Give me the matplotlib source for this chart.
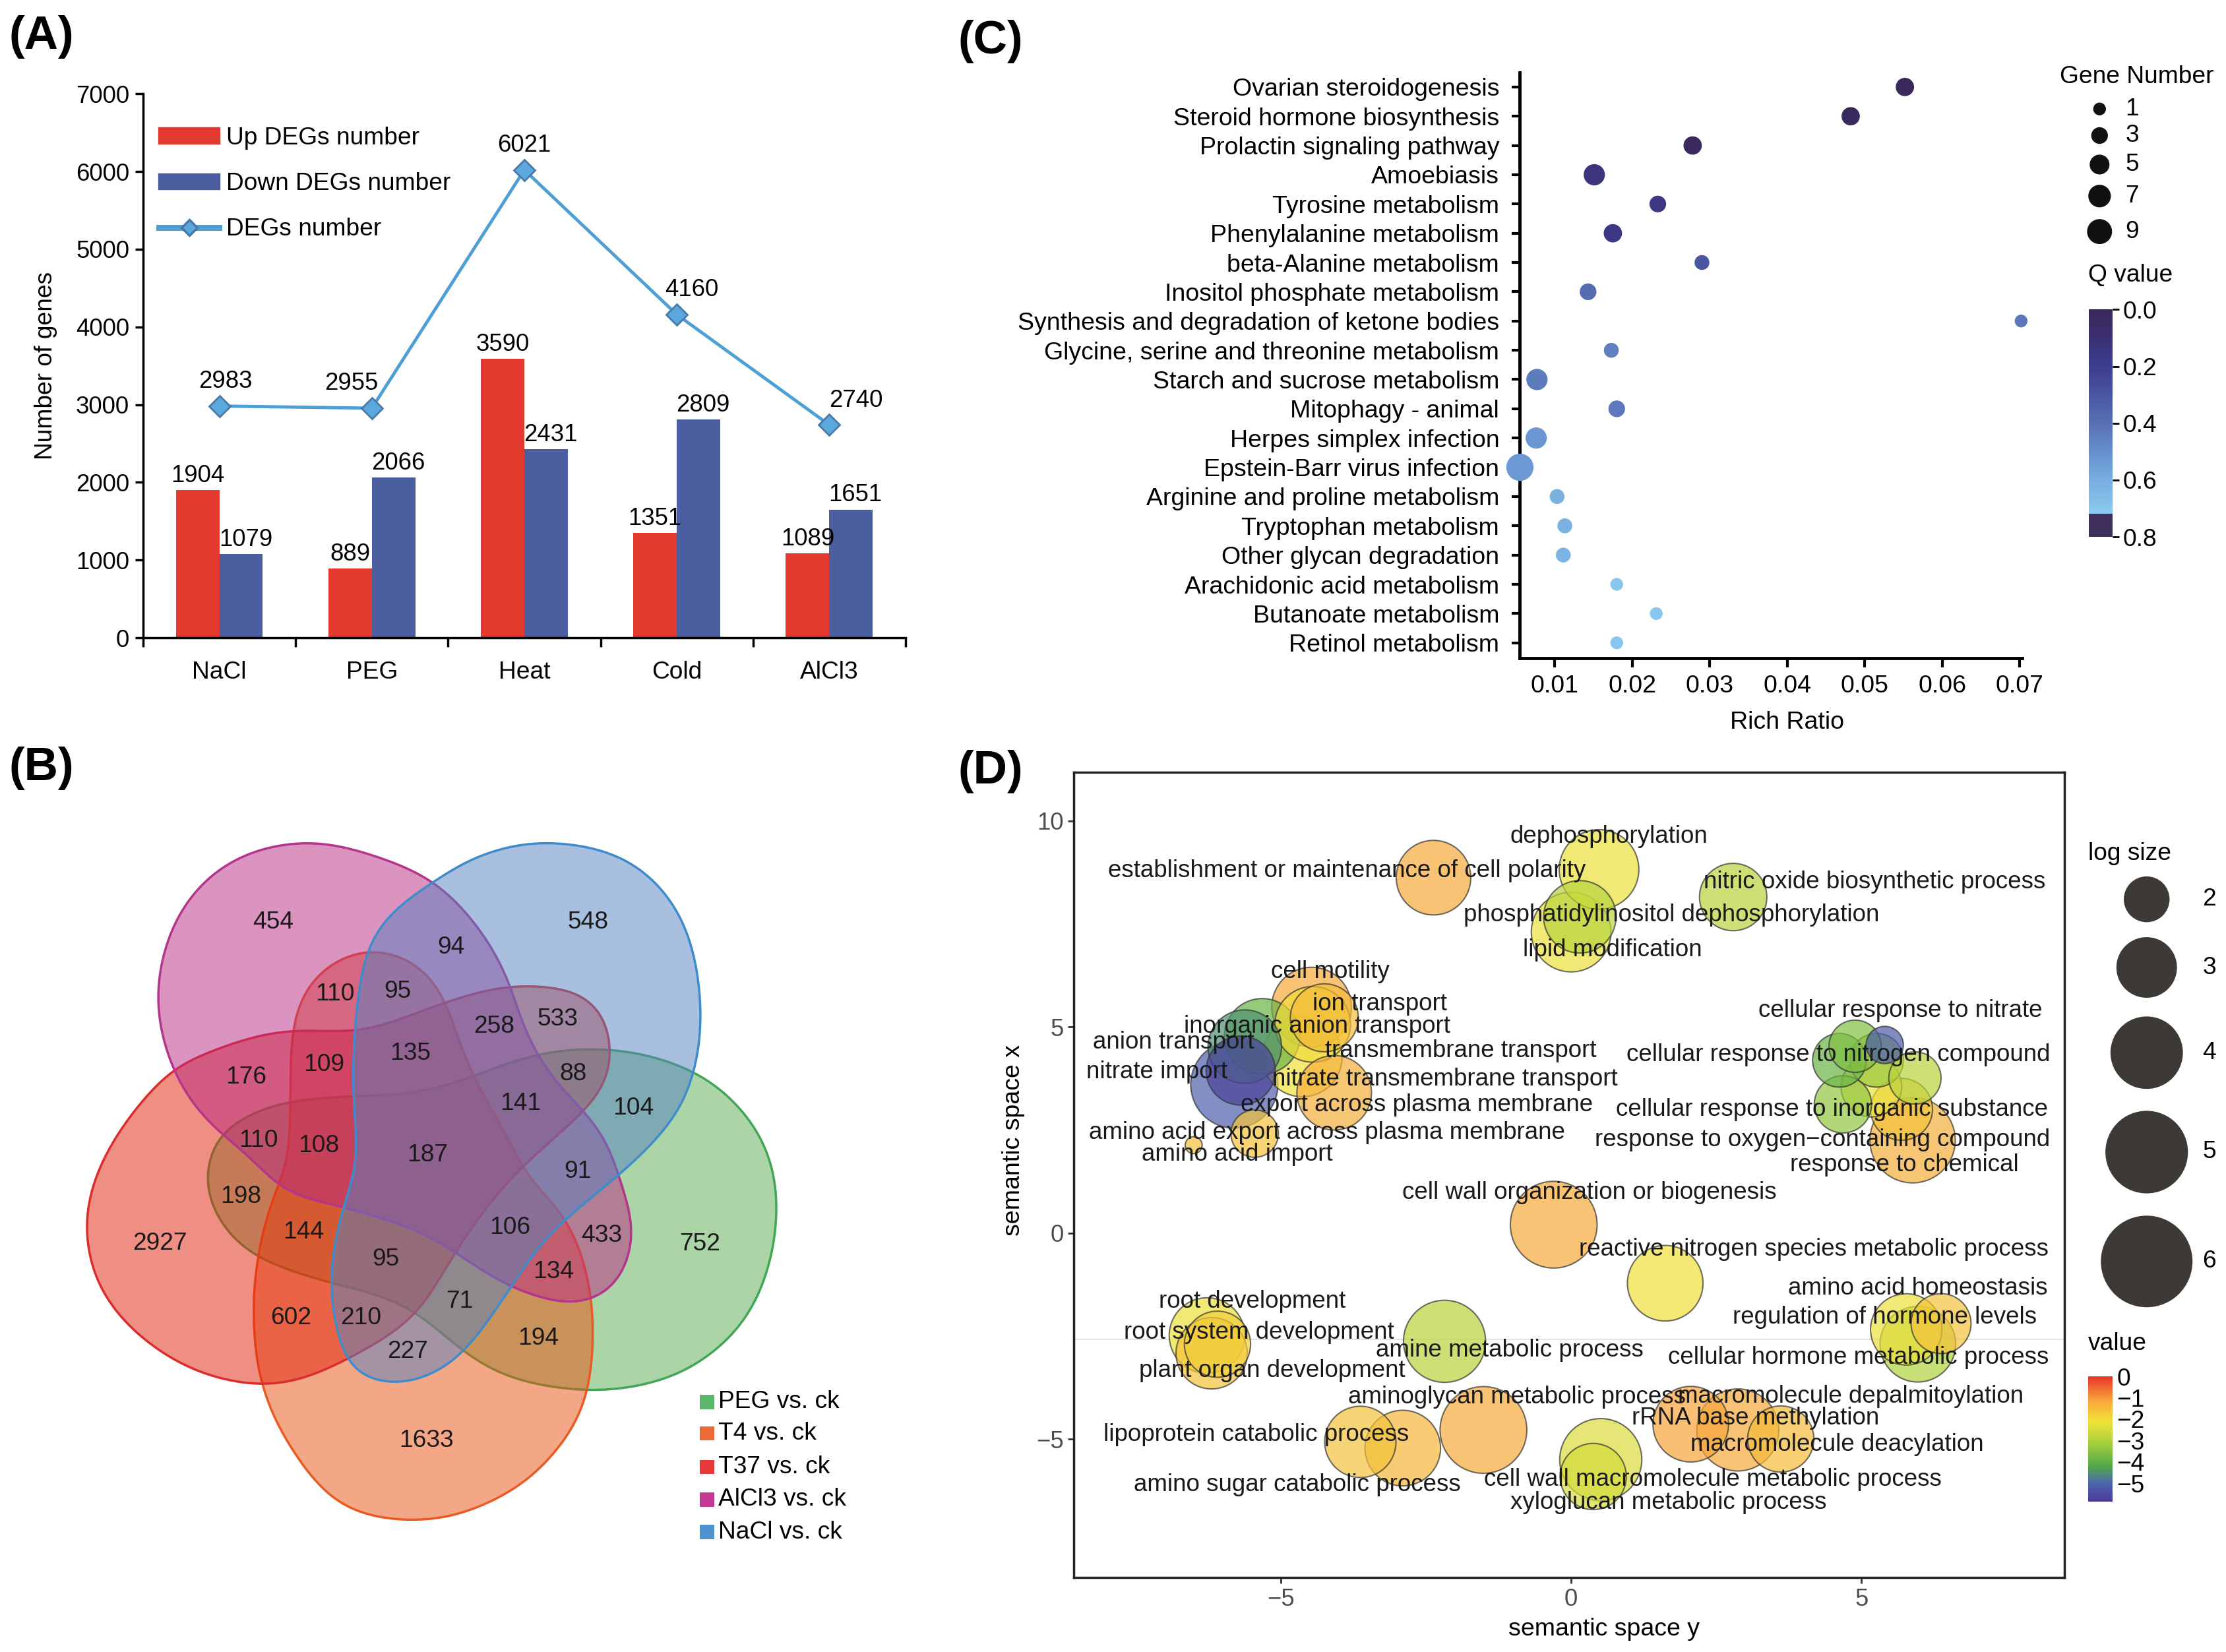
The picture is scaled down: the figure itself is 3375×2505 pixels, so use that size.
import numpy as np
import matplotlib
matplotlib.use('Agg')
import matplotlib.pyplot as plt
from matplotlib.colors import LinearSegmentedColormap
from matplotlib.patches import Polygon, Patch
from matplotlib.lines import Line2D

plt.rcParams['font.family'] = ['Liberation Sans', 'DejaVu Sans']
plt.rcParams['font.size'] = 10.7

# ---------------- data ----------------
# (A) number of DEGs per treatment
treatments = ['NaCl', 'PEG', 'Heat', 'Cold', 'AlCl3']
up_degs = [1904, 889, 3590, 1351, 1089]
down_degs = [1079, 2066, 2431, 2809, 1651]
all_degs = [2983, 2955, 6021, 4160, 2740]

# (B) five set venn
venn_names = ['PEG vs. ck', 'T4 vs. ck', 'T37 vs. ck', 'AlCl3 vs. ck', 'NaCl vs. ck']
venn_counts = [454, 548, 94, 110, 95, 258, 533, 176, 109, 135, 88, 141, 104, 110, 108,
               187, 198, 91, 2927, 144, 95, 106, 433, 752, 134, 71, 602, 210, 227, 194, 1633]

# (C) KEGG enrichment
pathways = ['Ovarian steroidogenesis', 'Steroid hormone biosynthesis', 'Prolactin signaling pathway',
            'Amoebiasis', 'Tyrosine metabolism', 'Phenylalanine metabolism', 'beta-Alanine metabolism',
            'Inositol phosphate metabolism', 'Synthesis and degradation of ketone bodies',
            'Glycine, serine and threonine metabolism', 'Starch and sucrose metabolism',
            'Mitophagy - animal', 'Herpes simplex infection', 'Epstein-Barr virus infection',
            'Arginine and proline metabolism', 'Tryptophan metabolism', 'Other glycan degradation',
            'Arachidonic acid metabolism', 'Butanoate metabolism', 'Retinol metabolism']
rich_ratio = [0.0552, 0.0482, 0.0278, 0.0151, 0.0233, 0.0175, 0.0290, 0.0143, 0.0702, 0.0173,
              0.0077, 0.0180, 0.0076, 0.0055, 0.0103, 0.0113, 0.0111, 0.0180, 0.0231, 0.0180]
gene_number = [4, 4, 4, 6, 3, 4, 2, 3, 1, 2, 6, 3, 6, 11, 2, 2, 2, 1, 1, 1]
q_value = [0.01, 0.02, 0.03, 0.14, 0.16, 0.16, 0.30, 0.38, 0.42, 0.45, 0.44, 0.43, 0.52, 0.53,
           0.62, 0.62, 0.63, 0.70, 0.70, 0.70]
gene_legend = [1, 3, 5, 7, 9]

# (D) REVIGO semantic space
sem_y = [-2.37, 0.48, 0.15, 0.00, 2.79,
         -4.47, -5.32, -5.62, -5.80, -5.69, -4.45, -4.25, -4.63, -4.08, -5.45, -6.50,
         4.89, 4.62, 5.40, 5.26, 5.92, 4.68, 5.17, 5.69, 5.88,
         -0.30, 1.62, 6.37, 5.77, 5.97, -2.18, -6.27, -6.09, -6.19,
         -1.51, -3.63, -2.90, 2.06, 2.87, 3.61, 0.51, 0.38]
sem_x = [8.62, 8.82, 7.67, 7.30, 8.15,
         5.48, 4.77, 4.52, 3.60, 3.94, 5.06, 5.22, 4.27, 3.40, 2.41, 2.13,
         4.53, 4.19, 4.56, 4.19, 3.76, 3.12, 3.55, 3.00, 2.25,
         0.20, -1.22, -2.20, -2.34, -2.70, -2.63, -2.49, -2.70, -2.92,
         -4.78, -5.07, -5.22, -4.64, -4.78, -5.00, -5.50, -5.91]
log_size = [4.2, 4.7, 4.0, 4.7, 3.55,
            4.7, 4.3, 4.1, 5.5, 3.7, 4.3, 3.6, 4.7, 4.2, 2.1, 0.85,
            2.4, 2.5, 1.55, 2.5, 2.4, 2.75, 3.0, 3.1, 5.3,
            5.45, 4.3, 2.95, 3.9, 4.3, 4.95, 4.3, 3.45, 3.9,
            5.45, 3.9, 4.3, 4.3, 4.95, 3.45, 4.95, 3.45]
log_value = [-1.2, -2.2, -2.9, -2.2, -2.9,
             -1.2, -3.9, -4.5, -5.1, -5.7, -2.0, -1.5, -2.1, -1.3, -1.6, -1.6,
             -3.6, -3.9, -5.2, -3.3, -2.9, -3.4, -2.2, -1.6, -1.3,
             -1.2, -2.1, -1.6, -2.2, -3.0, -2.9, -2.2, -1.8, -1.6,
             -1.2, -1.6, -1.4, -1.1, -1.2, -1.5, -2.4, -2.5]
go_terms = ['dephosphorylation', 'establishment or maintenance of cell polarity',
            'nitric oxide biosynthetic process', 'phosphatidylinositol dephosphorylation',
            'lipid modification', 'cell motility', 'ion transport', 'inorganic anion transport',
            'anion transport', 'transmembrane transport', 'nitrate import',
            'nitrate transmembrane transport', 'export across plasma membrane',
            'amino acid export across plasma membrane', 'amino acid import',
            'cellular response to nitrate', 'cellular response to nitrogen compound',
            'cellular response to inorganic substance', 'response to oxygen\u2212containing compound',
            'response to chemical', 'cell wall organization or biogenesis',
            'reactive nitrogen species metabolic process', 'amino acid homeostasis',
            'regulation of hormone levels', 'cellular hormone metabolic process',
            'root development', 'root system development', 'amine metabolic process',
            'plant organ development', 'aminoglycan metabolic process',
            'macromolecule depalmitoylation', 'rRNA base methylation', 'macromolecule deacylation',
            'lipoprotein catabolic process', 'amino sugar catabolic process',
            'cell wall macromolecule metabolic process', 'xyloglucan metabolic process']
size_legend = [2, 3, 4, 5, 6]

fig = plt.figure(figsize=(13.5, 10.02), dpi=250)

def panel_tag(x, y, s):
    fig.text(x, y, s, fontsize=20.5, fontweight='bold', ha='left', va='top')

# ================= (A) =================
axA = fig.add_axes([0.0643, 0.6139, 0.3425, 0.3293])
xa = np.arange(len(treatments))
w = 0.285
axA.bar(xa - w / 2, up_degs, w, color='#e4392f', zorder=2)
axA.bar(xa + w / 2, down_degs, w, color='#4b5e9f', zorder=2)
axA.plot(xa, all_degs, color='#4d9fd6', lw=1.4, marker='D', ms=6.5,
         mfc='#5ba8dc', mec='#4a78a8', mew=0.8, zorder=3)
for xi, v in zip(xa, up_degs):
    axA.annotate(str(v), (xi - w / 2, v), xytext=(0, 3.5), textcoords='offset points',
                 ha='center', va='baseline', fontsize=10.5)
for xi, v in zip(xa, down_degs):
    axA.annotate(str(v), (xi + w / 2, v), xytext=(2, 3.5), textcoords='offset points',
                 ha='center', va='baseline', fontsize=10.5)
line_dx = [2.7, -8.9, 0, 6.5, 11.6]
for xi, v, dx in zip(xa, all_degs, line_dx):
    axA.annotate(str(v), (xi, v), xytext=(dx, 8), textcoords='offset points',
                 ha='center', va='baseline', fontsize=10.5)
axA.set_xlim(-0.5, 4.5)
axA.set_ylim(0, 7000)
axA.set_yticks(range(0, 7001, 1000))
axA.set_xticks(xa)
axA.set_xticklabels(treatments, fontsize=10.7)
axA.set_xticks(np.arange(-0.5, 4.6, 1), minor=True)
axA.tick_params(axis='x', which='major', length=0, pad=10)
axA.tick_params(axis='x', which='minor', length=4, width=1, direction='out')
axA.tick_params(axis='y', length=3.5, width=1, direction='out', labelsize=10.5, pad=2.5)
for s in ['top', 'right']:
    axA.spines[s].set_visible(False)
for s in ['left', 'bottom']:
    axA.spines[s].set_linewidth(1.0)
axA.set_ylabel('Number of genes', fontsize=10.7, labelpad=8)
legA = [Patch(color='#e4392f'), Patch(color='#4b5e9f'),
        Line2D([], [], color='#4d9fd6', lw=2.6, marker='D', ms=5, mfc='#5ba8dc', mec='#4a78a8')]
axA.legend(legA, ['Up DEGs number', 'Down DEGs number', 'DEGs number'], loc='upper left',
           bbox_to_anchor=(0.008, 0.958), borderaxespad=0, frameon=False, fontsize=10.7,
           handlelength=2.45, handleheight=0.55, handletextpad=0.3, labelspacing=0.92)
panel_tag(0.004, 0.991, '(A)')

# ================= (B) =================
axB = fig.add_axes([0, 0, 1300 / 3375, 1405 / 2505])
axB.set_xlim(0, 1568)
axB.set_ylim(1568, 0)
axB.axis('off')


def smooth_closed(pts, n=24, k0=14.0):
    # catmull-rom through the points, then a soft low-pass on the closed outline
    p = np.asarray(pts, dtype=float)
    out = []
    for i in range(len(p)):
        p0, p1, p2, p3 = p[i - 1], p[i], p[(i + 1) % len(p)], p[(i + 2) % len(p)]
        t = np.linspace(0, 1, n, endpoint=False)[:, None]
        out.append(0.5 * (2 * p1 + (-p0 + p2) * t + (2 * p0 - 5 * p1 + 4 * p2 - p3) * t ** 2
                          + (-p0 + 3 * p1 - 3 * p2 + p3) * t ** 3))
    c = np.vstack(out)
    c2 = np.vstack([c, c[:1]])
    d = np.r_[0, np.cumsum(np.hypot(*np.diff(c2, axis=0).T))]
    u = np.linspace(0, d[-1], 800, endpoint=False)
    z = np.interp(u, d, c2[:, 0]) + 1j * np.interp(u, d, c2[:, 1])
    f = np.fft.fft(z)
    k = np.fft.fftfreq(len(z), 1.0 / len(z))
    f *= np.exp(-(k / k0) ** 2)
    z = np.fft.ifft(f)
    return np.column_stack([z.real, z.imag])


outline_peg = [(372, 775), (385, 720), (400, 688), (501, 641), (628, 628), (746, 624), (840, 603),
               (925, 572), (1010, 551), (1094, 547), (1178, 556), (1288, 594), (1373, 667),
               (1416, 752), (1420, 854), (1395, 950), (1348, 1025), (1260, 1090), (1160, 1120),
               (1052, 1125), (925, 1102), (840, 1055), (772, 999), (696, 964), (586, 939),
               (460, 896), (400, 840)]
outline_t4 = [(670, 378), (763, 402), (814, 462), (840, 539), (882, 624), (925, 690), (967, 768),
              (1035, 832), (1077, 939), (1085, 1046), (1068, 1153), (1009, 1238), (925, 1302),
              (789, 1345), (628, 1323), (527, 1216), (476, 1110), (463, 1003), (468, 917),
              (493, 811), (527, 740), (531, 624), (537, 495), (580, 419)]
outline_t37 = [(155, 850), (175, 760), (230, 670), (315, 581), (375, 556), (450, 530), (536, 515),
               (665, 517), (797, 474), (900, 445), (976, 440), (1068, 453), (1110, 496),
               (1119, 545), (1112, 605), (1052, 667), (980, 725), (920, 780), (870, 840),
               (823, 905), (755, 1003), (628, 1076), (540, 1110), (460, 1116), (350, 1090),
               (250, 1030), (180, 950)]
outline_alcl3 = [(577, 197), (690, 222), (797, 266), (882, 350), (933, 436), (950, 495), (976, 547),
                 (1010, 598), (1060, 645), (1110, 701), (1136, 778), (1161, 854), (1136, 939),
                 (1090, 972), (1035, 980), (925, 947), (840, 896), (763, 854), (628, 815),
                 (519, 789), (460, 731), (375, 667), (315, 581), (286, 466), (310, 350),
                 (370, 265), (460, 213)]
outline_nacl = [(1001, 197), (1150, 228), (1250, 330), (1283, 490), (1255, 630), (1178, 722),
                (1080, 800), (1010, 855), (970, 900), (925, 964), (850, 1060), (790, 1100),
                (724, 1116), (650, 1100), (625, 1060), (603, 940), (628, 811), (654, 752),
                (652, 700), (645, 581), (662, 411), (700, 330), (797, 262), (880, 218)]
venn_outlines = [outline_peg, outline_t4, outline_t37, outline_alcl3, outline_nacl]
venn_fill = ['#59ad51', '#ea5010', '#e12108', '#b92981', '#5581c1']
venn_edge = ['#41a656', '#ea5a22', '#dd2c2c', '#b5348c', '#3e8ccc']
venn_key = ['#5bb56c', '#ee6a35', '#e63a3a', '#c23a93', '#4f92d0']
for pts, fc, ec in zip(venn_outlines, venn_fill, venn_edge):
    rgba = matplotlib.colors.to_rgba(fc, 0.5)
    axB.add_patch(Polygon(smooth_closed(pts), closed=True, facecolor=rgba, edgecolor=ec, lw=1.0))

count_pos = [(500, 333), (1075, 333), (825, 375), (612, 455), (727, 450), (903, 510), (1020, 497),
             (450, 595), (592, 574), (750, 555), (1048, 590), (952, 640), (1158, 648), (473, 702),
             (583, 712), (782, 727), (440, 797), (1057, 755), (292, 877), (555, 858), (706, 903),
             (932, 850), (1100, 863), (1280, 878), (1012, 925), (840, 975), (532, 1003),
             (660, 1003), (745, 1060), (985, 1037), (780, 1210)]
for c, (px, py) in zip(venn_counts, count_pos):
    axB.text(px, py, str(c), ha='center', va='center', fontsize=10.7, color='#1a1a1a')

key_y = [1145, 1198, 1255, 1310, 1365]
axB.scatter([1293] * len(venn_names), key_y, marker='s', s=38, c=venn_key, linewidths=0)
for name, ky in zip(venn_names, key_y):
    axB.text(1313, ky, name, ha='left', va='center', fontsize=10.7)
panel_tag(0.004, 0.548, '(B)')

# ================= (C) =================
cmapC = LinearSegmentedColormap.from_list('qv', [(0, '#3a2858'), (0.1, '#3b2e6e'), (0.25, '#3c3d8f'),
                                                  (0.5, '#5870b4'), (0.7, '#70a2da'), (0.9, '#8ccbf0'),
                                                  (0.9, '#3e2f5c'), (1.0, '#3e2f5c')])
axC = fig.add_axes([0.6828, 0.6015, 0.2255, 0.3547])
yc = np.arange(len(pathways))
scC = axC.scatter(rich_ratio, yc, s=[11 * g + 20 for g in gene_number], c=q_value, cmap=cmapC,
                  vmin=0, vmax=0.8, linewidths=0, clip_on=False, zorder=3)
axC.set_yticks(yc)
axC.set_yticklabels(pathways, fontsize=10.8)
axC.set_ylim(19.53, -0.5)
axC.set_xlim(0.0055, 0.0703)
axC.set_xticks([0.01, 0.02, 0.03, 0.04, 0.05, 0.06, 0.07])
axC.set_xticklabels(['0.01', '0.02', '0.03', '0.04', '0.05', '0.06', '0.07'], fontsize=10.8)
axC.tick_params(axis='y', length=3.5, width=1.2, pad=5.5)
axC.tick_params(axis='x', length=4, width=1.2, pad=3)
for s in ['top', 'right']:
    axC.spines[s].set_visible(False)
for s in ['left', 'bottom']:
    axC.spines[s].set_linewidth(1.4)
axC.set_xlabel('Rich Ratio', fontsize=10.8, labelpad=6, x=0.532)

caxC = fig.add_axes([0.9385, 0.675, 0.0105, 0.1376])
cbC = fig.colorbar(scC, cax=caxC)
cbC.set_ticks([0, 0.2, 0.4, 0.6, 0.8])
cbC.set_ticklabels(['0.0', '0.2', '0.4', '0.6', '0.8'])
caxC.invert_yaxis()
cbC.outline.set_visible(False)
caxC.tick_params(length=3, width=0.8, labelsize=10.7, pad=1.5)
fig.text(1500.5 / 1568, 1 - 194 / 1163, 'Q value', ha='center', va='center', fontsize=10.7)

axG = fig.add_axes([0.9247, 0.8495, 0.0753, 0.1161])
axG.set_xlim(1450, 1568)
axG.set_ylim(175, 40)
axG.axis('off')
gy = [76.7, 95.4, 115.8, 138, 163]
axG.scatter([1479] * len(gene_legend), gy, s=[11 * g + 20 for g in gene_legend], c='#111111',
            linewidths=0, clip_on=False)
for g, yy in zip(gene_legend, gy):
    axG.text(1497, yy, str(g), ha='left', va='center', fontsize=10.7)
axG.text(1505, 54, 'Gene Number', ha='center', va='center', fontsize=10.7)
panel_tag(0.4305, 0.988, '(C)')

# ================= (D) =================
cmapD = LinearSegmentedColormap.from_list('lv', [(0, '#4b3c96'), (0.145, '#4d65af'), (0.282, '#50aa4a'),
                                                  (0.47, '#a8d03c'), (0.641, '#f2e23a'),
                                                  (0.812, '#f6a43a'), (1.0, '#e8332a')])
axD = fig.add_axes([0.4825, 0.0451, 0.4448, 0.4875])
order = np.argsort(log_size)[::-1]
scD = axD.scatter(np.array(sem_y)[order], np.array(sem_x)[order],
                  s=[300 * log_size[i] - 200 for i in order], c=np.array(log_value)[order],
                  cmap=cmapD, vmin=-5.85, vmax=0.0, alpha=0.7, edgecolors='#333333',
                  linewidths=0.6, zorder=2)
label_pos = [(0.65, 9.61), (-3.86, 8.79), (5.22, 8.52), (1.73, 7.72), (0.71, 6.87), (-4.15, 6.34),
             (-3.30, 5.55), (-4.38, 5.01), (-6.85, 4.63), (-1.90, 4.42), (-7.13, 3.91),
             (-2.17, 3.73), (-2.66, 3.10), (-4.20, 2.43), (-5.75, 1.90), (5.67, 5.40),
             (4.60, 4.32), (4.49, 3.00), (4.33, 2.26), (5.74, 1.65), (0.31, 0.98), (4.18, -0.40),
             (5.97, -1.34), (5.40, -2.05), (4.95, -3.02), (-5.49, -1.67), (-5.38, -2.41),
             (-1.06, -2.84), (-5.15, -3.35), (-0.93, -3.99), (4.82, -3.97), (3.17, -4.50),
             (4.58, -5.14), (-5.42, -4.89), (-4.72, -6.11), (2.44, -5.98), (1.68, -6.55)]
for term, (lx, ly) in zip(go_terms, label_pos):
    axD.text(lx, ly, term, ha='center', va='center', fontsize=10.6, color='#1a1a1a', zorder=4)
axD.axhline(-2.59, color='#e4e4e4', lw=0.6, zorder=0)
axD.set_xlim(-8.56, 8.49)
axD.set_ylim(-8.36, 11.18)
axD.set_xticks([-5, 0, 5])
axD.set_yticks([-5, 0, 5, 10])
axD.set_xticklabels(['\u22125', '0', '5'])
axD.set_yticklabels(['\u22125', '0', '5', '10'])
axD.tick_params(length=2.5, width=0.8, color='#333333', labelcolor='#4d4d4d', labelsize=10.5, pad=2)
for s in axD.spines.values():
    s.set_linewidth(1.0)
    s.set_color('#222222')
axD.set_xlabel('semantic space y', fontsize=10.8, labelpad=3, x=0.535)
axD.set_ylabel('semantic space x', fontsize=10.8, labelpad=5, y=0.543)

axS = fig.add_axes([0.928, 0.2003, 0.0721, 0.2966])
axS.set_xlim(1455, 1568)
axS.set_ylim(930, 585)
axS.axis('off')
sy = [633, 681, 741, 811, 888]
axS.scatter([1512] * len(size_legend), sy, s=[300 * L - 200 for L in size_legend], c='#3d3935',
            linewidths=0, clip_on=False)
for L, yy in zip(size_legend, sy):
    axS.text(1556, yy, str(L), ha='center', va='center', fontsize=10.7)
axS.text(1500, 601, 'log size', ha='center', va='center', fontsize=10.7)

caxD = fig.add_axes([0.9381, 0.0911, 0.0108, 0.0757])
sm = plt.cm.ScalarMappable(cmap=cmapD, norm=plt.Normalize(-5.85, 0.0))
cbD = fig.colorbar(sm, cax=caxD)
cbD.set_ticks([0, -1, -2, -3, -4, -5])
cbD.set_ticklabels(['0', '\u22121', '\u22122', '\u22123', '\u22124', '\u22125'])
cbD.outline.set_visible(False)
caxD.tick_params(length=0, labelsize=10.7, pad=2)
fig.text(1491.6 / 1568, 1 - 946 / 1163, 'value', ha='center', va='center', fontsize=10.7)
panel_tag(0.4305, 0.546, '(D)')

fig.savefig('out.png', dpi=250)
